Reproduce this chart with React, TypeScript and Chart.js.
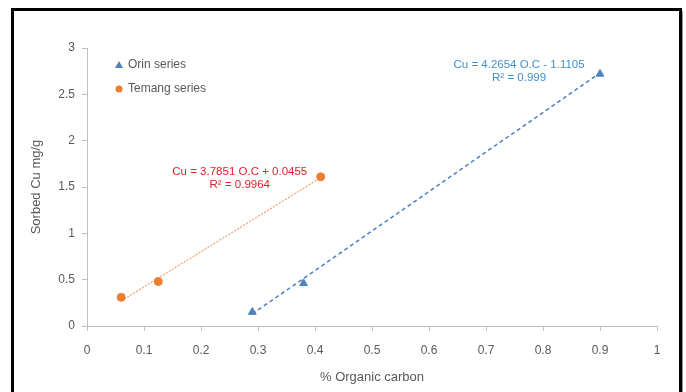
import React, { useEffect, useRef } from "react";
import { Chart, registerables } from "chart.js";

Chart.register(...registerables);

// ---- data ----
const orinLabel = "Orin series";
const temangLabel = "Temang series";
const orinX = [0.29, 0.38, 0.9];
const orinY = [0.15, 0.46, 2.72];
const temangX = [0.06, 0.125, 0.41];
const temangY = [0.31, 0.48, 1.61];
const orinTrendX = [0.29, 0.9];
const orinTrendY = [0.13, 2.73];
const temangTrendX = [0.06, 0.41];
const temangTrendY = [0.27, 1.6];
const xTickValues = [0, 0.1, 0.2, 0.3, 0.4, 0.5, 0.6, 0.7, 0.8, 0.9, 1];
const yTickValues = [0, 0.5, 1, 1.5, 2, 2.5, 3];
const xTitle = "% Organic carbon";
const yTitle = "Sorbed Cu mg/g";
const orinEquation = ["Cu = 4.2654 O.C - 1.1105", "R² = 0.999"];
const temangEquation = ["Cu = 3.7851 O.C + 0.0455", "R² = 0.9964"];

const FONT = "'Liberation Sans', Arial, sans-serif";
const TEXT = "#595959";
const AXIS = "#bfbfbf";
const BLUE = "#4f81bd";
const ORANGE = "#ed7d31";
const BLUE_TEXT = "#3f8fd2";
const RED_TEXT = "#e0202c";

const toPoints = (xs: number[], ys: number[]) => xs.map((x, i) => ({ x, y: ys[i] }));

const decorPlugin = {
  id: "decor",
  beforeDraw(chart: any) {
    const { ctx } = chart;
    ctx.save();
    ctx.fillStyle = "#ffffff";
    ctx.fillRect(0, 0, chart.width, chart.height);
    ctx.restore();
  },
  afterDraw(chart: any) {
    const { ctx, scales } = chart;
    const xs = scales.x;
    const ys = scales.y;
    ctx.save();
    // frame
    ctx.strokeStyle = "#000000";
    ctx.lineWidth = 3;
    ctx.strokeRect(12.5, 9.5, 668, 420);
    ctx.strokeStyle = "#9a9a9a";
    ctx.lineWidth = 1;
    ctx.beginPath();
    ctx.moveTo(682.5, 11);
    ctx.lineTo(682.5, 400);
    ctx.stroke();

    // legend
    ctx.font = `12px ${FONT}`;
    ctx.textBaseline = "middle";
    ctx.textAlign = "left";
    const lx = 119;
    ctx.fillStyle = BLUE;
    ctx.beginPath();
    ctx.moveTo(lx, 61);
    ctx.lineTo(lx + 4, 68);
    ctx.lineTo(lx - 4, 68);
    ctx.closePath();
    ctx.fill();
    ctx.fillStyle = TEXT;
    ctx.fillText(orinLabel, 128, 65);
    ctx.fillStyle = ORANGE;
    ctx.beginPath();
    ctx.arc(lx, 89, 3.5, 0, Math.PI * 2);
    ctx.fill();
    ctx.fillStyle = TEXT;
    ctx.fillText(temangLabel, 128, 89);

    // equations
    ctx.font = `11.5px ${FONT}`;
    ctx.textAlign = "center";
    ctx.fillStyle = BLUE_TEXT;
    const bx = xs.getPixelForValue(0.758);
    const by = ys.getPixelForValue(2.82);
    ctx.fillText(orinEquation[0], bx, by);
    ctx.fillText(orinEquation[1], bx, by + 13);
    ctx.fillStyle = RED_TEXT;
    const rx = xs.getPixelForValue(0.268);
    const ry = ys.getPixelForValue(1.665);
    ctx.fillText(temangEquation[0], rx, ry);
    ctx.fillText(temangEquation[1], rx, ry + 13);
    ctx.restore();
  },
};

export default function App() {
  const ref = useRef<HTMLCanvasElement | null>(null);
  useEffect(() => {
    if (!ref.current) return;
    const chart = new Chart(ref.current, {
      type: "scatter",
      data: {
        datasets: [
          {
            label: orinLabel + " trend",
            data: toPoints(orinTrendX, orinTrendY),
            showLine: true,
            borderColor: BLUE,
            borderWidth: 1.5,
            borderDash: [4, 3],
            pointRadius: 0,
          },
          {
            label: temangLabel + " trend",
            data: toPoints(temangTrendX, temangTrendY),
            showLine: true,
            borderColor: ORANGE,
            borderWidth: 1,
            borderDash: [2, 1.5],
            pointRadius: 0,
          },
          {
            label: orinLabel,
            data: toPoints(orinX, orinY),
            pointStyle: "triangle",
            pointRadius: 4.5,
            backgroundColor: BLUE,
            borderColor: BLUE,
          },
          {
            label: temangLabel,
            data: toPoints(temangX, temangY),
            pointStyle: "circle",
            pointRadius: 4,
            backgroundColor: ORANGE,
            borderColor: ORANGE,
          },
        ],
      },
      options: {
        responsive: false,
        animation: false,
        layout: { padding: { left: 0, top: 48, right: 29, bottom: 0 } },
        plugins: { legend: { display: false }, tooltip: { enabled: false } },
        scales: {
          x: {
            type: "linear",
            min: 0,
            max: 1,
            afterFit: (s: any) => {
              s.height = 66;
            },
            afterBuildTicks: (s: any) => {
              s.ticks = xTickValues.map((v) => ({ value: v }));
            },
            ticks: {
              color: TEXT,
              font: { family: FONT, size: 12 },
              padding: 12,
              maxRotation: 0,
              autoSkip: false,
              callback: (v: any) => String(v),
            },
            grid: { drawOnChartArea: false, drawTicks: true, tickLength: 5, color: AXIS },
            border: { color: AXIS },
            title: {
              display: true,
              text: xTitle,
              color: TEXT,
              font: { family: FONT, size: 13 },
              padding: { top: 0, bottom: 7 },
            },
          },
          y: {
            type: "linear",
            min: 0,
            max: 3,
            afterFit: (s: any) => {
              s.width = 87;
            },
            afterBuildTicks: (s: any) => {
              s.ticks = yTickValues.map((v) => ({ value: v }));
            },
            ticks: {
              color: TEXT,
              font: { family: FONT, size: 12 },
              padding: 7,
              autoSkip: false,
              callback: (v: any) => String(v),
            },
            grid: { drawOnChartArea: false, drawTicks: true, tickLength: 5, color: AXIS },
            border: { color: AXIS },
            title: {
              display: true,
              text: yTitle,
              color: TEXT,
              font: { family: FONT, size: 13 },
              padding: { top: 29, bottom: 0 },
            },
          },
        },
      },
      plugins: [decorPlugin],
    });
    return () => chart.destroy();
  }, []);
  return (
    <div style={{ position: "absolute", left: 0, top: 0, width: 686, height: 392 }}>
      <canvas ref={ref} width={686} height={392} style={{ display: "block" }} />
    </div>
  );
}
